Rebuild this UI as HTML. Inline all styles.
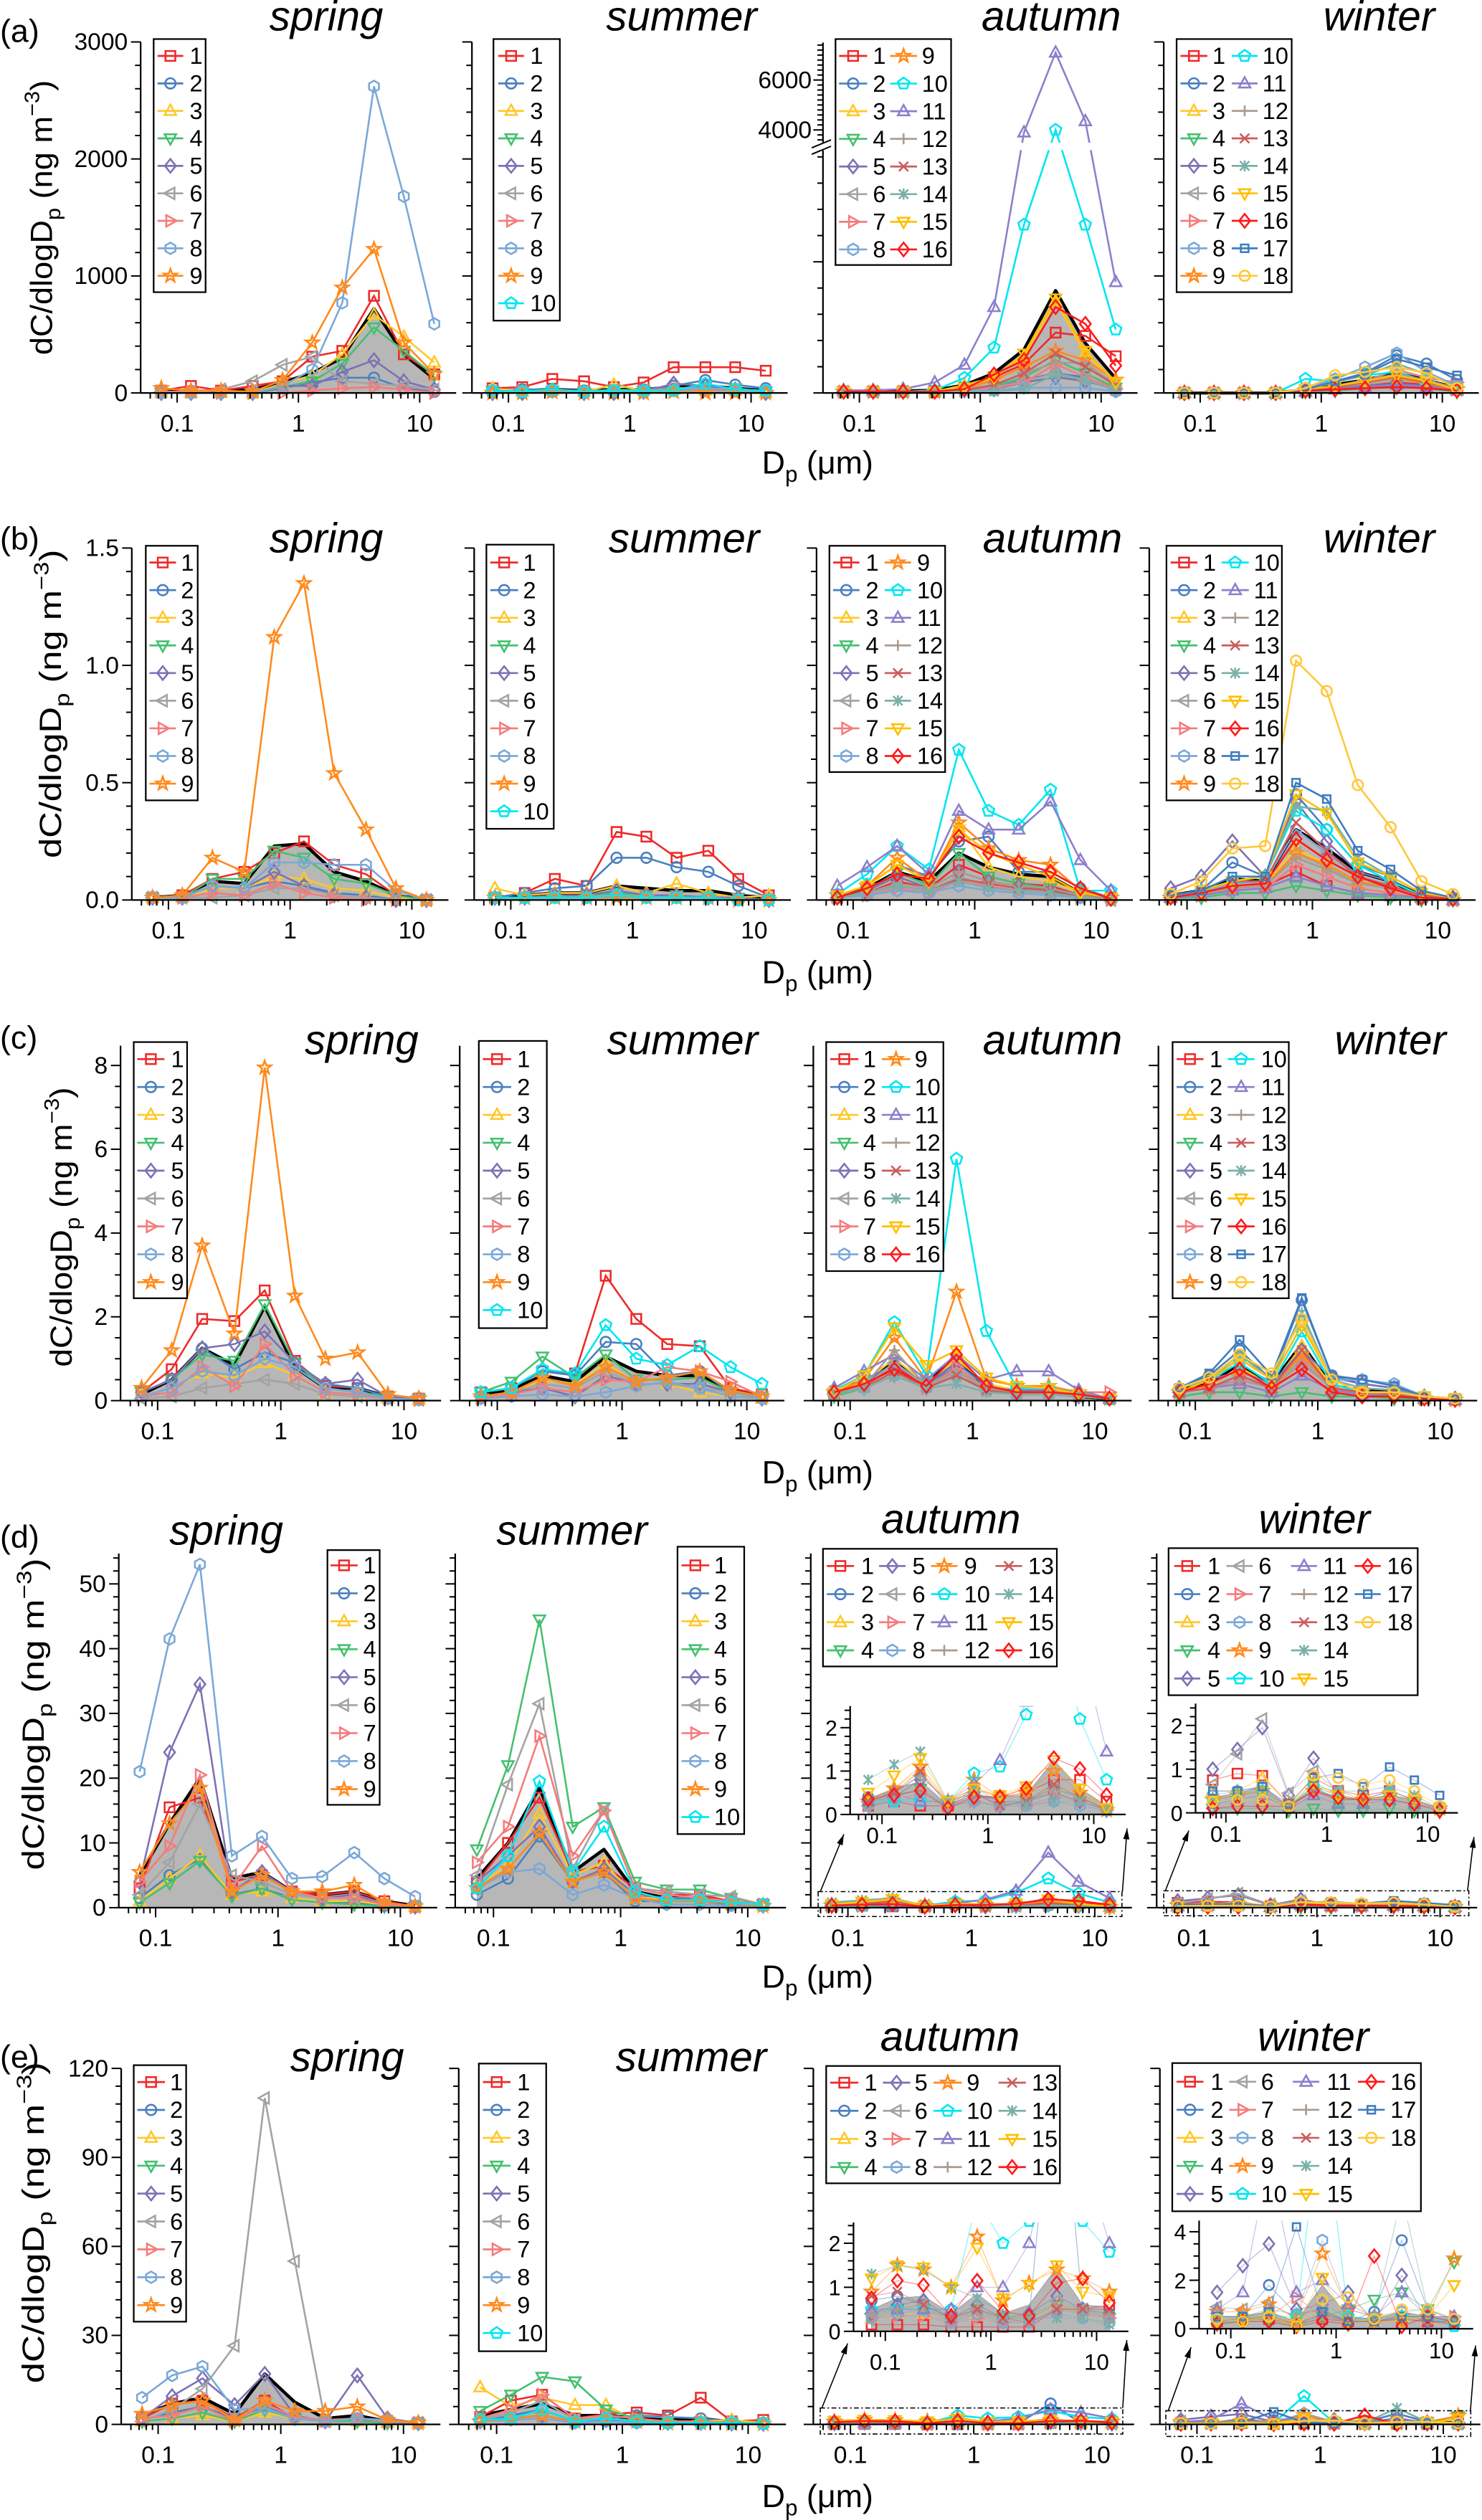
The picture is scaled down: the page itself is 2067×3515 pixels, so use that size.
<!DOCTYPE html>
<html><head><meta charset="utf-8"><style>
html,body{margin:0;padding:0;background:#fff;}
svg{display:block;}
text{font-family:"Liberation Sans",Arial,sans-serif;}
</style></head>
<body>
<svg id="fig" xmlns="http://www.w3.org/2000/svg" width="2067" height="3515" viewBox="0 0 922 1568" preserveAspectRatio="none">
<rect x="0" y="0" width="922" height="1568" fill="#fff"/>
</svg>
<script>
// ---------- data ----------
const dpBins = [0.074,0.13,0.23,0.42,0.74,1.3,2.3,4.2,7.4,13.2];
const aSpring = {
 s1:[20,60,20,60,100,310,360,830,330,160], s2:[0,0,0,0,40,90,130,130,40,10], s3:[0,0,0,0,80,150,330,670,480,260],
 s4:[0,0,0,0,50,100,250,560,360,150], s5:[0,0,0,0,60,60,180,280,100,30], s6:[10,10,30,100,240,310,100,80,60,30],
 s7:[10,10,0,0,0,20,40,50,30,0], s8:[0,0,0,0,60,200,770,2620,1680,590], s9:[40,20,20,10,110,430,900,1230,430,160],
 mean:[10,15,15,30,90,170,300,720,330,120]};
const aSummer = {
 s1:[40,50,120,100,50,90,220,220,220,190], s2:[20,30,30,20,20,30,60,110,70,40], s3:[40,10,20,10,70,20,30,20,20,0],
 s4:[20,10,20,10,30,20,40,50,40,10], s5:[0,0,20,0,0,10,80,60,30,0], s6:[10,10,20,10,20,20,40,40,30,10],
 s7:[10,10,10,10,10,10,20,20,20,10], s8:[0,10,10,0,10,10,20,30,20,10], s9:[0,0,10,0,0,0,10,0,0,0],
 s10:[20,10,30,10,20,20,20,80,30,20], mean:[20,20,30,20,30,30,50,60,40,20]};
const aAutumn = {
 s1:[10,10,10,10,40,120,220,460,435,280], s2:[10,10,10,10,20,40,100,150,120,30], s3:[10,10,10,10,60,120,280,700,300,80],
 s4:[10,10,10,10,20,50,120,250,150,40], s5:[10,10,10,10,20,30,80,120,90,30], s6:[10,10,10,10,20,40,90,150,100,30],
 s7:[10,10,10,10,20,40,80,220,120,30], s8:[10,10,10,10,20,20,40,40,40,10], s9:[10,10,10,10,30,100,200,320,250,100],
 s10:[10,10,10,20,115,345,1283,4000,1283,483], s11:[20,20,30,80,215,655,3900,7100,4350,845],
 s12:[10,10,10,10,30,60,150,230,230,60], s13:[10,10,10,10,20,60,150,300,200,60], s14:[10,10,10,10,10,10,30,140,100,20],
 s15:[10,10,10,10,40,120,300,720,320,80], s16:[10,10,10,10,30,141,251,655,527,208],
 mean:[10,10,15,20,60,150,330,780,380,110]};
const aWinter = {
 s1:[0,0,0,0,20,40,60,90,70,30], s2:[0,0,0,0,30,100,170,320,250,110], s3:[0,0,0,0,20,60,100,160,110,40],
 s4:[0,0,0,0,10,20,40,60,40,10], s5:[0,0,0,0,20,40,60,80,60,20], s6:[0,0,0,0,20,50,80,120,80,30],
 s7:[0,0,0,0,20,60,100,200,130,90], s8:[0,0,0,0,40,120,220,340,180,60], s9:[0,0,0,0,20,50,90,130,80,30],
 s10:[0,0,0,0,120,100,150,180,100,40], s11:[0,0,0,0,10,30,50,70,50,20], s12:[0,0,0,0,20,60,110,160,110,40],
 s13:[0,0,0,0,20,50,90,140,90,30], s14:[0,0,0,0,30,90,150,250,160,60], s15:[0,0,0,0,30,60,100,150,100,30],
 s16:[0,0,0,0,20,30,40,50,40,20], s17:[0,0,0,0,30,100,160,290,220,150], s18:[0,0,0,0,40,150,180,220,170,40],
 mean:[0,0,0,0,30,70,110,170,110,40]};
const bSpring = {
 s1:[0.01,0.02,0.09,0.12,0.2,0.25,0.15,0.11,0.02,0], s2:[0.01,0.01,0.06,0.05,0.08,0.06,0.03,0.02,0,0],
 s3:[0.01,0.01,0.05,0.05,0.1,0.09,0.05,0.04,0.01,0], s4:[0.01,0.01,0.09,0.09,0.21,0.18,0.09,0.07,0.02,0],
 s5:[0.01,0.01,0.06,0.05,0.12,0.06,0.02,0.01,0,0], s6:[0.01,0.01,0.01,0.02,0.05,0.05,0.02,0.01,0,0],
 s7:[0.01,0.01,0.03,0.02,0.07,0.03,0.01,0,0,0], s8:[0.01,0.01,0.06,0.05,0.16,0.16,0.15,0.15,0.04,0],
 s9:[0.01,0.02,0.18,0.12,1.12,1.35,0.54,0.3,0.05,0], mean:[0.01,0.02,0.08,0.07,0.23,0.24,0.12,0.08,0.02,0]};
const bSummer = {
 s1:[0.01,0.03,0.09,0.06,0.29,0.27,0.18,0.21,0.09,0.02], s2:[0.01,0.03,0.05,0.06,0.18,0.18,0.14,0.12,0.06,0.01],
 s3:[0.05,0.02,0.03,0.03,0.06,0.03,0.07,0.03,0.01,0.02], s4:[0.01,0.01,0.02,0.02,0.03,0.02,0.02,0.01,0.01,0],
 s5:[0.01,0.01,0.02,0.02,0.04,0.02,0.02,0.01,0.01,0], s6:[0.01,0.01,0.01,0.01,0.02,0.01,0.01,0.01,0,0],
 s7:[0.01,0.01,0.01,0.01,0.02,0.01,0.01,0.01,0,0], s8:[0.01,0.01,0.01,0.01,0.02,0.01,0.01,0.01,0,0],
 s9:[0.01,0.01,0.01,0.01,0.01,0.01,0.01,0.01,0,0], s10:[0.01,0.01,0.01,0.01,0.02,0.01,0.01,0.01,0,0],
 mean:[0.01,0.02,0.03,0.03,0.06,0.05,0.04,0.04,0.02,0.01]};
const bAutumn = {
 s1:[0.01,0.03,0.08,0.05,0.15,0.1,0.07,0.06,0.02,0.01], s2:[0.02,0.06,0.15,0.1,0.25,0.27,0.12,0.12,0.05,0.01],
 s3:[0.02,0.06,0.15,0.08,0.31,0.14,0.1,0.08,0.03,0.01], s4:[0.01,0.04,0.12,0.06,0.2,0.1,0.07,0.05,0.02,0.01],
 s5:[0.02,0.04,0.1,0.05,0.12,0.08,0.06,0.04,0.02,0.01], s6:[0.01,0.03,0.06,0.04,0.1,0.06,0.04,0.03,0.01,0],
 s7:[0.01,0.02,0.05,0.03,0.08,0.06,0.04,0.03,0.01,0], s8:[0.01,0.02,0.04,0.03,0.06,0.04,0.03,0.02,0.01,0],
 s9:[0.02,0.06,0.18,0.08,0.33,0.22,0.17,0.15,0.04,0.01], s10:[0.025,0.11,0.23,0.13,0.64,0.38,0.32,0.47,0.04,0.04],
 s11:[0.06,0.14,0.23,0.11,0.38,0.3,0.3,0.42,0.17,0.04], s12:[0.01,0.03,0.07,0.05,0.12,0.08,0.06,0.05,0.02,0],
 s13:[0.01,0.03,0.06,0.04,0.09,0.07,0.05,0.04,0.01,0], s14:[0.01,0.03,0.06,0.04,0.08,0.05,0.04,0.03,0.01,0],
 s15:[0.02,0.06,0.15,0.08,0.3,0.2,0.15,0.1,0.03,0.01], s16:[0.01,0.05,0.11,0.09,0.27,0.2,0.16,0.12,0.05,0.005],
 mean:[0.015,0.05,0.12,0.08,0.2,0.14,0.11,0.1,0.03,0.01]};
const bWinter = {
 s1:[0.01,0.02,0.05,0.06,0.12,0.06,0.03,0.02,0.01,0], s2:[0.02,0.04,0.16,0.1,0.45,0.3,0.15,0.1,0.03,0.01],
 s3:[0.01,0.03,0.06,0.07,0.22,0.15,0.08,0.05,0.01,0], s4:[0.01,0.01,0.03,0.03,0.06,0.04,0.02,0.01,0,0],
 s5:[0.05,0.1,0.25,0.1,0.42,0.25,0.12,0.08,0.02,0.01], s6:[0.01,0.02,0.05,0.06,0.2,0.14,0.07,0.05,0.01,0],
 s7:[0.01,0.02,0.04,0.05,0.15,0.1,0.05,0.03,0.01,0], s8:[0.02,0.03,0.07,0.08,0.3,0.2,0.1,0.06,0.02,0.01],
 s9:[0.01,0.02,0.05,0.06,0.2,0.15,0.08,0.05,0.01,0], s10:[0.02,0.04,0.08,0.1,0.38,0.3,0.15,0.08,0.02,0.01],
 s11:[0.01,0.02,0.04,0.05,0.1,0.06,0.03,0.02,0.01,0], s12:[0.01,0.03,0.05,0.06,0.18,0.13,0.07,0.05,0.01,0.005],
 s13:[0.02,0.04,0.08,0.08,0.33,0.21,0.1,0.06,0.02,0.01], s14:[0.02,0.04,0.08,0.1,0.4,0.38,0.18,0.1,0.03,0.01],
 s15:[0.02,0.04,0.08,0.1,0.45,0.37,0.16,0.1,0.03,0.01], s16:[0.01,0.03,0.06,0.07,0.26,0.17,0.1,0.05,0.01,0.005],
 s17:[0.02,0.04,0.1,0.1,0.5,0.43,0.21,0.13,0.04,0.01], s18:[0.025,0.08,0.22,0.23,1.02,0.89,0.49,0.31,0.08,0.025],
 mean:[0.02,0.04,0.09,0.08,0.3,0.22,0.12,0.08,0.02,0.01]};
const cSpring = {
 s1:[0.2,0.75,1.95,1.9,2.63,0.95,0.35,0.3,0.1,0.05], s2:[0.2,0.5,1.25,0.75,1.15,0.9,0.4,0.3,0.1,0.05],
 s3:[0.1,0.3,0.65,0.55,0.9,0.6,0.2,0.15,0.05,0.02], s4:[0.2,0.5,1.1,0.95,2.3,0.9,0.3,0.2,0.1,0.05],
 s5:[0.2,0.5,1.25,1.35,1.65,0.9,0.4,0.5,0.1,0.05], s6:[0.05,0.1,0.3,0.4,0.5,0.4,0.15,0.1,0.05,0.02],
 s7:[0.1,0.2,0.8,0.35,1.35,0.6,0.2,0.15,0.05,0.02], s8:[0.1,0.3,0.7,0.6,1.0,0.8,0.3,0.2,0.05,0.02],
 s9:[0.3,1.2,3.7,1.6,7.95,2.5,1.0,1.15,0.15,0.05], mean:[0.15,0.5,1.25,0.85,2.25,0.8,0.3,0.3,0.1,0.05]};
const cSummer = {
 s1:[0.2,0.3,0.7,0.65,2.98,1.95,1.35,1.3,0.3,0.15], s2:[0.2,0.3,0.7,0.6,1.4,1.35,0.6,0.7,0.2,0.05],
 s3:[0.1,0.2,0.5,0.4,0.9,0.4,0.4,0.2,0.1,0.05], s4:[0.2,0.45,1.05,0.55,1.1,0.5,0.5,0.55,0.2,0.1],
 s5:[0.1,0.2,0.3,0.1,0.6,0.4,0.4,0.4,0.2,0.05], s6:[0.1,0.2,0.4,0.3,0.7,0.4,0.4,0.3,0.2,0.05],
 s7:[0.05,0.15,0.3,0.2,0.5,0.45,0.8,0.7,0.45,0.1], s8:[0.05,0.1,0.15,0.1,0.2,0.35,0.45,0.3,0.1,0.05],
 s9:[0.1,0.2,0.55,0.35,0.8,0.45,0.55,0.7,0.25,0.1], s10:[0.2,0.3,0.75,0.65,1.8,1.0,0.85,1.3,0.8,0.4],
 mean:[0.15,0.25,0.6,0.45,1.05,0.7,0.6,0.6,0.25,0.1]};
const cAutumn = {
 s1:[0.15,0.35,0.8,0.35,0.7,0.3,0.2,0.2,0.1,0.05], s2:[0.2,0.4,0.9,0.4,0.9,0.35,0.25,0.2,0.1,0.05],
 s3:[0.2,0.45,1.0,0.4,1.0,0.4,0.25,0.25,0.1,0.05], s4:[0.1,0.3,0.6,0.3,0.6,0.25,0.15,0.15,0.1,0.05],
 s5:[0.25,0.5,0.85,0.4,0.8,0.3,0.25,0.25,0.1,0.05], s6:[0.15,0.35,0.9,0.35,0.6,0.3,0.2,0.2,0.1,0.05],
 s7:[0.2,0.35,0.6,0.3,0.8,0.3,0.2,0.2,0.2,0.2], s8:[0.15,0.3,0.6,0.3,0.6,0.25,0.15,0.15,0.1,0.05],
 s9:[0.2,0.5,1.5,0.5,2.6,0.5,0.35,0.35,0.2,0.05], s10:[0.25,0.6,1.87,0.6,5.77,1.66,0.3,0.3,0.17,0.03],
 s11:[0.3,0.7,1.1,0.5,1.1,0.5,0.7,0.7,0.25,0.05], s12:[0.15,0.35,1.2,0.35,0.7,0.3,0.2,0.2,0.1,0.05],
 s13:[0.15,0.3,0.7,0.3,0.6,0.25,0.15,0.15,0.1,0.05], s14:[0.15,0.3,0.6,0.3,0.4,0.2,0.15,0.15,0.1,0.05],
 s15:[0.2,0.6,1.75,0.85,1.2,0.55,0.35,0.3,0.15,0.05], s16:[0.2,0.4,0.75,0.35,1.1,0.35,0.2,0.2,0.15,0.05],
 mean:[0.2,0.4,0.95,0.4,1.05,0.3,0.2,0.2,0.1,0.05]};
const cWinter = {
 s1:[0.2,0.3,0.5,0.3,0.9,0.3,0.2,0.15,0.05,0.02], s2:[0.3,0.6,1.2,0.5,2.4,0.6,0.4,0.3,0.1,0.05],
 s3:[0.2,0.35,0.8,0.35,1.3,0.35,0.2,0.15,0.05,0.02], s4:[0.1,0.2,0.2,0.1,0.2,0.1,0.1,0.05,0.05,0.02],
 s5:[0.3,0.5,0.7,0.4,1.2,0.55,0.4,0.3,0.1,0.05], s6:[0.2,0.3,0.6,0.3,1.0,0.3,0.2,0.15,0.05,0.02],
 s7:[0.2,0.3,0.5,0.3,0.9,0.3,0.2,0.15,0.05,0.02], s8:[0.3,0.5,1.0,0.5,1.8,0.5,0.5,0.4,0.1,0.05],
 s9:[0.2,0.3,0.6,0.3,1.1,0.3,0.2,0.15,0.05,0.02], s10:[0.2,0.5,0.9,0.4,1.65,0.4,0.2,0.2,0.1,0.05],
 s11:[0.2,0.3,0.4,0.2,0.6,0.25,0.15,0.1,0.05,0.02], s12:[0.2,0.3,0.5,0.3,0.9,0.3,0.2,0.15,0.05,0.02],
 s13:[0.2,0.3,0.6,0.3,1.2,0.3,0.2,0.15,0.05,0.02], s14:[0.3,0.5,1.1,0.5,2.1,0.5,0.3,0.25,0.1,0.05],
 s15:[0.2,0.5,1.0,0.5,1.8,0.5,0.2,0.2,0.1,0.05], s16:[0.2,0.4,0.75,0.3,0.75,0.2,0.1,0.1,0.05,0.02],
 s17:[0.3,0.65,1.45,0.6,2.45,0.6,0.5,0.35,0.1,0.05], s18:[0.3,0.55,1.1,0.65,1.95,0.5,0.2,0.2,0.1,0.05],
 mean:[0.25,0.4,0.85,0.4,1.35,0.35,0.25,0.2,0.08,0.03]};
const dSpring = {
 s1:[3,15.5,17,4,5,2.5,2,2.5,1,0.2], s2:[1.5,5,7.5,2,3,1.5,1,0.8,0.3,0.1], s3:[1,4.5,8,2,2.5,1.5,1,1,0.5,0.2],
 s4:[0.8,3.8,7.2,1.8,3,1.2,0.8,0.5,0.2,0.1], s5:[4,24,34.5,2.5,5.5,2.5,1.5,2,0.5,0.2], s6:[2,7,16,5,4,2,1.5,1.5,0.5,0.2],
 s7:[4,9.5,20.5,3,9.5,2.5,1.5,1.5,0.5,0.1], s8:[21,41.5,53,8,11,4.5,4.8,8.5,4.5,1.7], s9:[5.5,13,18.5,2.5,5,2.5,2.5,3.5,0.8,0.2],
 mean:[5,13,20,4.5,5.5,2.5,2,2.5,1,0.3]};
const dSummer = {
 s1:[4,10,17,5.5,6.5,3,2,2,1,0.5], s2:[2,4.5,11,4,5.5,1,1,1,0.5,0.3], s3:[3.5,6.5,14.5,5,7,1.5,1.5,1.5,0.8,0.3],
 s4:[9,22,44.5,12.5,15.5,4,2.8,2.8,1.5,0.5], s5:[4,8,12.5,4,6,2,1.5,1.5,1,0.3], s6:[5,19,31.5,6,15,3,2.5,2,1.7,0.5],
 s7:[7,12.5,26.5,8,15,3,2,1.5,1,0.5], s8:[3,5.5,6,2,3.5,1.5,0.5,0.5,0.3,0.2], s9:[3,6,11.5,4,5.5,1.5,1,1,0.7,0.3],
 s10:[3,8,19.5,5.5,12.5,2.5,1.2,1.2,0.8,0.5], mean:[4.5,10,18.5,5.5,9,2.5,1.5,1.5,0.8,0.4]};
const dAutumn = {
 s1:[0.2,0.3,0.2,0.2,0.6,0.4,0.5,0.8,0.8,0.3], s2:[0.4,0.5,0.9,0.3,0.5,0.3,0.3,0.6,0.4,0.1],
 s3:[0.3,0.6,1.0,0.3,0.6,0.4,0.6,0.6,0.5,0.1], s4:[0.2,0.4,0.6,0.2,0.3,0.2,0.3,0.5,0.3,0.1],
 s5:[0.3,0.4,0.8,0.2,0.5,0.2,0.3,0.5,0.3,0.1], s6:[0.3,0.5,0.9,0.3,0.5,0.3,0.3,0.6,0.4,0.1],
 s7:[0.2,0.3,0.5,0.2,0.3,0.2,0.2,0.4,0.3,0.1], s8:[0.2,0.3,0.4,0.2,0.3,0.2,0.2,0.3,0.2,0.1],
 s9:[0.3,0.6,1.1,0.3,0.8,0.4,0.5,1.0,0.5,0.1], s10:[0.3,0.3,0.3,0.3,0.95,1.1,2.3,4.5,2.2,0.8],
 s11:[0.3,0.5,0.3,0.3,0.7,1.25,2.6,8.5,4.0,1.45], s12:[0.3,0.5,0.9,0.3,0.5,0.3,0.3,0.6,0.4,0.1],
 s13:[0.3,0.5,1.0,0.2,0.5,0.2,0.3,0.7,0.4,0.1], s14:[0.8,1.15,1.45,0.3,0.6,0.3,0.2,0.3,0.3,0.1],
 s15:[0.5,0.9,1.3,0.3,0.6,0.45,0.65,1.25,0.6,0.15], s16:[0.35,0.45,0.55,0.15,0.4,0.4,0.6,1.3,1.05,0.45],
 mean:[0.35,0.6,0.75,0.2,0.45,0.4,0.45,1.25,0.6,0.2]};
const dWinter = {
 s1:[0.75,0.9,0.85,0.2,0.8,0.5,0.4,0.5,0.3,0.1], s2:[0.3,0.4,0.5,0.15,0.6,0.4,0.3,0.4,0.3,0.1],
 s3:[0.5,0.5,0.8,0.2,0.6,0.4,0.3,0.4,0.3,0.1], s4:[0.1,0.1,0.1,0.05,0.1,0.05,0.05,0.1,0.05,0.02],
 s5:[1.0,1.45,1.95,0.4,1.25,0.4,0.3,0.5,0.3,0.1], s6:[0.65,1.35,2.15,0.45,0.95,0.5,0.3,0.5,0.3,0.1],
 s7:[0.3,0.4,0.5,0.15,0.5,0.3,0.3,0.4,0.3,0.1], s8:[0.4,0.5,0.6,0.15,0.7,0.4,0.3,0.5,0.3,0.1],
 s9:[0.3,0.4,0.5,0.15,0.5,0.3,0.3,0.4,0.3,0.1], s10:[0.3,0.4,0.5,0.15,0.6,0.3,0.3,0.4,0.3,0.1],
 s11:[0.2,0.3,0.4,0.1,0.4,0.2,0.2,0.3,0.2,0.1], s12:[0.3,0.4,0.5,0.15,0.5,0.3,0.3,0.4,0.3,0.1],
 s13:[0.3,0.4,0.5,0.15,0.5,0.3,0.3,0.4,0.3,0.1], s14:[0.3,0.4,0.5,0.15,0.6,0.5,0.5,0.6,0.4,0.1],
 s15:[0.3,0.4,0.5,0.15,0.7,0.4,0.3,0.4,0.3,0.1], s16:[0.1,0.15,0.15,0.15,0.5,0.35,0.3,0.3,0.2,0.05],
 s17:[0.5,0.5,0.6,0.2,0.8,0.9,0.6,1.05,0.75,0.4], s18:[0.25,0.3,0.3,0.15,0.85,0.8,0.65,0.75,0.5,0.15],
 mean:[0.35,0.45,0.6,0.15,0.55,0.35,0.3,0.4,0.3,0.1]};
const eSpring = {
 s1:[2,7,8,2,8,2,1,2,1,0.5], s2:[1.5,4,6,2,6,2,1,1.5,1,0.3], s3:[1,2,3,1,4,2,1,1,0.5,0.3],
 s4:[1,2,4,1,5,2,1,1,0.5,0.3], s5:[2,9.5,15.5,6.5,17,3,1,16.5,2,0.5], s6:[1,5,12,26.5,110,55,1,2,1,0.5],
 s7:[2,3,6,1,7,2.5,1.5,2,1,0.5], s8:[9,16.5,19.5,5,5.5,2,1,2,1.5,0.5], s9:[3.5,6.5,8,1.5,8,4.5,4.5,6,1.5,0.5],
 mean:[3,7,9,3.5,17,7.5,2,3,1,0.3]};
const eSummer = {
 s1:[2.5,8,10,2,3.5,4,3,9,1,1.5], s2:[1,3,5,1,2,3,2.5,2,1,0.5], s3:[12.5,6,9,6.5,6.5,1,1,1,1.5,0.5],
 s4:[4.5,10,16,14.5,5,2,1,1,0.5,0.3], s5:[1,2,3,1,1.5,1,0.5,0.5,0.3,0.2], s6:[1.5,4,8,1.5,2,1,0.5,0.5,0.3,0.2],
 s7:[2,5,10,2,3,2,1,1,0.5,0.3], s8:[1,1.5,2,0.5,1,0.5,0.3,0.3,0.2,0.1], s9:[1,2,3,1,2,1,0.5,0.5,0.3,0.2],
 s10:[1.5,2,5,1,2,1,0.5,0.5,0.5,0.3], mean:[3,5,7,3,3,2,1.5,2,0.8,0.5]};
const eAutumn = {
 s1:[0.15,0.15,0.15,0.1,0.1,0.1,0.1,0.5,0.5,0.6], s2:[0.7,0.8,0.6,0.3,0.4,0.3,0.3,7,0.5,0.4],
 s3:[0.3,0.4,0.4,0.3,0.4,0.3,0.3,0.6,0.4,0.3], s4:[0.3,0.5,0.5,0.3,0.5,0.3,0.3,0.6,0.4,0.3],
 s5:[0.4,0.6,0.7,0.3,0.6,0.3,0.4,0.8,0.5,0.3], s6:[0.4,0.5,0.6,0.2,0.5,0.2,0.3,0.7,0.5,0.3],
 s7:[0.3,0.35,0.35,0.2,0.3,0.2,0.2,0.5,0.4,0.3], s8:[0.3,0.4,0.5,0.2,0.4,0.2,0.2,0.4,0.3,0.2],
 s9:[0.9,1.5,1.4,1.0,2.15,0.7,1.1,1.4,1.2,0.9], s10:[0.5,0.5,0.5,0.5,3,2,2.5,4.5,2.5,1.8],
 s11:[0.5,0.5,0.5,0.5,1,1,2,5,4,2], s12:[0.4,0.5,0.6,0.3,0.5,0.3,0.4,0.6,0.5,0.4],
 s13:[0.8,0.9,0.6,0.3,0.5,0.3,0.2,0.5,0.5,0.5], s14:[1.3,1.5,1.4,1.0,0.75,0.4,0.3,0.3,0.3,0.15],
 s15:[1.2,1.5,1.45,1.0,1.9,0.75,1.05,1.5,0.9,0.8], s16:[0.75,1.15,1.05,0.35,1.15,0.45,0.35,1.1,1.2,0.65],
 mean:[0.5,0.75,0.8,0.4,0.85,0.4,0.6,1.45,0.6,0.55]};
const eWinter = {
 s1:[0.3,0.4,0.4,0.2,0.4,0.3,0.3,0.4,0.3,0.3], s2:[0.5,0.5,1.8,0.6,0.8,0.3,0.7,3.65,0.8,0.4],
 s3:[0.4,0.5,0.6,0.3,0.8,0.4,0.3,0.5,0.4,0.3], s4:[0.2,0.3,0.3,0.1,0.5,0.8,1.2,1.5,0.8,2.75],
 s5:[1.5,2.6,3.5,0.8,1.0,1.5,0.3,2.2,0.3,0.3], s6:[0.9,0.8,1.1,0.4,1.0,0.5,0.3,0.5,0.4,0.3],
 s7:[0.3,0.4,0.5,1.3,0.5,0.3,0.3,0.5,0.5,0.5], s8:[0.5,0.5,0.8,0.6,3.65,0.8,0.5,0.7,0.8,0.4],
 s9:[0.7,0.7,1.0,0.5,3.1,0.8,0.5,0.5,0.5,2.9], s10:[0.3,0.3,0.5,0.5,9.5,0.5,0.4,0.5,0.5,0.1],
 s11:[0.8,1.5,7,1.5,2,1,0.5,1.5,0.5,0.5], s12:[0.3,0.4,0.5,0.2,0.6,0.3,0.3,0.4,0.3,0.2],
 s13:[0.3,0.4,0.5,0.2,0.6,0.3,0.3,0.4,0.3,0.2], s14:[0.3,0.5,0.5,0.3,0.5,0.3,0.5,5.5,0.8,0.3],
 s15:[0.3,0.4,0.5,0.2,2.1,0.3,0.3,0.3,0.5,1.8], s16:[0.2,0.3,0.3,0.1,0.3,0.2,3.0,0.1,0.5,0.3],
 s17:[0.5,0.5,0.7,4.2,0.7,0.3,0.3,0.5,0.5,0.3], s18:[0.4,0.3,0.5,0.1,1.2,1.3,0.4,0.8,0.8,0.4],
 mean:[0.5,0.5,0.7,0.3,1.8,0.5,0.4,0.7,0.5,0.5]};
const xTickLabels = ['0.1','1','10'];
const xTickValues = [0.1,1,10];

// ---------- styling ----------
const colors = ['#ee2a2a','#4a7fc0','#ffc82a','#45c070','#7c72b4','#a3a3a3','#f47c7c','#7aa8d8','#ff8a1c','#00e6f0','#8b80cc','#ab9a8e','#cc5c5c','#79b0a8','#ffbf00','#ff1a1a','#3f7cc0','#ffc83a'];
const shapes = ['sq','ci','tu','td','di','tl','tr','hx','st','pe','tu','pl','x','as','td','di','sqs','ci'];
const NS='http://www.w3.org/2000/svg';
const svg=document.getElementById('fig');
function mk(tag,attrs,parent){const e=document.createElementNS(NS,tag);for(const k in attrs)e.setAttribute(k,attrs[k]);(parent||svg).appendChild(e);return e;}
const XMIN=0.05, XMAX=20;
function xs(p,d){return p.L+(Math.log10(d)-Math.log10(XMIN))/(Math.log10(XMAX)-Math.log10(XMIN))*(p.R-p.L);}
function ysLin(p,v){return p.y0-(v/p.ymax)*(p.y0-p.top);}
function ysBreak(p,v){
  if(v<=1850) return 244.5-v*0.0816;
  if(v>=3500) return 88.6-(v-3500)*0.015525;
  return 93.6-(v-1850)/(1650)*5;
}
function shapePts(k,cx,cy,r){
  const pts=[];
  if(k==='hx'){for(let i=0;i<6;i++){const a=Math.PI/2+i*Math.PI/3;pts.push([cx+r*1.05*Math.cos(a),cy-r*1.05*Math.sin(a)]);}}
  if(k==='pe'){for(let i=0;i<5;i++){const a=Math.PI/2+i*2*Math.PI/5;pts.push([cx+r*1.1*Math.cos(a),cy-r*1.1*Math.sin(a)]);}}
  if(k==='st'){for(let i=0;i<10;i++){const a=Math.PI/2+i*Math.PI/5;const rr=i%2?r*0.5:r*1.25;pts.push([cx+rr*Math.cos(a),cy-rr*Math.sin(a)]);}}
  if(k==='tu')pts.push([cx,cy-r*1.15],[cx+r*1.05,cy+r*0.75],[cx-r*1.05,cy+r*0.75]);
  if(k==='td')pts.push([cx,cy+r*1.15],[cx+r*1.05,cy-r*0.75],[cx-r*1.05,cy-r*0.75]);
  if(k==='tl')pts.push([cx-r*1.15,cy],[cx+r*0.75,cy-r*1.05],[cx+r*0.75,cy+r*1.05]);
  if(k==='tr')pts.push([cx+r*1.15,cy],[cx-r*0.75,cy-r*1.05],[cx-r*0.75,cy+r*1.05]);
  if(k==='di')pts.push([cx,cy-r*1.25],[cx+r,cy],[cx,cy+r*1.25],[cx-r,cy]);
  return pts.map(q=>q[0].toFixed(2)+','+q[1].toFixed(2)).join(' ');
}
function marker(g,idx,cx,cy,r,name){
  const k=shapes[idx], c=colors[idx]; let e;
  const st={fill:'none',stroke:c,'stroke-width':1.15};
  if(k==='sq'||k==='sqs'){const h=k==='sq'?r*0.9:r*0.7;e=mk('rect',Object.assign({x:cx-h,y:cy-h,width:2*h,height:2*h},st),g);}
  else if(k==='ci'){e=mk('circle',Object.assign({cx:cx,cy:cy,r:r*0.95},st),g);}
  else if(k==='pl'){e=mk('path',Object.assign({d:`M${cx-r} ${cy}H${cx+r}M${cx} ${cy-r}V${cy+r}`},st),g);}
  else if(k==='x'){const q=r*0.85;e=mk('path',Object.assign({d:`M${cx-q} ${cy-q}L${cx+q} ${cy+q}M${cx-q} ${cy+q}L${cx+q} ${cy-q}`},st),g);}
  else if(k==='as'){const q=r*0.85;e=mk('path',Object.assign({d:`M${cx-q} ${cy-q}L${cx+q} ${cy+q}M${cx-q} ${cy+q}L${cx+q} ${cy-q}M${cx} ${cy-r}V${cy+r}`},st),g);}
  else {e=mk('polygon',Object.assign({points:shapePts(k,cx,cy,r)},st),g);}
  
  
  return e;
}
function txt(s,x,y,size,anchor,parent,extra){
  const t=mk('text',Object.assign({x:x,y:y,'font-size':size,'text-anchor':anchor||'start',fill:'#000'},extra||{}),parent);
  t.textContent=s; return t;
}

// ---------- drawing ----------
function drawSeries(p,data,n,yfn,g,faint){
  const meanPts=data.mean.map((v,i)=>[xs(p,dpBins[i]),yfn(p,v)]);
  const poly=[[meanPts[0][0],yfn(p,0)]].concat(meanPts,[[meanPts[meanPts.length-1][0],yfn(p,0)]]);
  const area=mk('polygon',{points:poly.map(q=>q[0].toFixed(2)+','+q[1].toFixed(2)).join(' '),fill:'#b7b7b7',stroke:faint?'#999':'none','stroke-width':0.4},g);
  
  
  if(!faint){
    const ml=mk('polyline',{points:meanPts.map(q=>q.join(',')).join(' '),fill:'none',stroke:'#000','stroke-width':2,'stroke-linejoin':'round'},g);
    
    
  }
  for(let s=1;s<=n;s++){
    const vals=data['s'+s];
    const sg=mk('g',{},g);
    
    
    const pts=vals.map((v,i)=>[xs(p,dpBins[i]),yfn(p,v)]);
    const ln=mk('polyline',{points:pts.map(q=>q[0].toFixed(2)+','+q[1].toFixed(2)).join(' '),fill:'none',stroke:colors[s-1],'stroke-width':faint?0.6:1.15,'stroke-opacity':faint?0.45:1},sg);
    
    
    pts.forEach(q=>marker(sg,s-1,q[0],q[1],faint?3.3:3.4,'series-marker'));
  }
}
function xAxis(p,g,labelDy,fs){
  const ax=mk('line',{x1:p.L,y1:p.y0,x2:p.R,y2:p.y0,stroke:'#000','stroke-width':1},g);
  
  
  for(let e=-2;e<=1;e++){for(let m=1;m<=9;m++){const d=m*Math.pow(10,e);if(d<=XMIN*1.01||d>=XMAX*0.99)continue;
    const x=xs(p,d);const tk=mk('line',{x1:x,y1:p.y0,x2:x,y2:p.y0+(m===1?6:3.5),stroke:'#000','stroke-width':0.9},g);
    
    }}
  xTickValues.forEach((v,i)=>{const t=txt(xTickLabels[i],xs(p,v),p.y0+labelDy,fs,'middle',g);
    
    });
}
function yAxisLin(p,g,labels,fmt,fs){
  const ax=mk('line',{x1:p.L,y1:p.top,x2:p.L,y2:p.y0,stroke:'#000','stroke-width':1},g);
  
  
  const nMin=Math.round(p.ymax/p.minor+1e-6);
  for(let i=0;i<=nMin;i++){const v=i*p.minor; if(v>p.ymax+1e-9)break;
    const isMaj=Math.abs(v/p.major-Math.round(v/p.major))<1e-6;
    const y=ysLin(p,v);const tk=mk('line',{x1:p.L-(isMaj?6:3.5),y1:y,x2:p.L,y2:y,stroke:'#000','stroke-width':0.9},g);
    
    
    if(isMaj&&labels){const t=txt(fmt(v),p.L-8,y+5,fs,'end',g);
      
      }}
}
function legend(L,n,g){
  const box=mk('rect',{x:L.x1,y:L.y1,width:L.x2-L.x1,height:L.y2-L.y1,fill:'#fff',stroke:'#000','stroke-width':1},g);
  
  
  for(let s=1;s<=n;s++){
    const c=Math.floor((s-1)/L.rows), r=(s-1)%L.rows, col=L.cols[c];
    const y=L.ry+r*L.dy;
    const eg=mk('g',{},g);
    
    
    const ln=mk('line',{x1:col[0],y1:y,x2:col[1],y2:y,stroke:colors[s-1],'stroke-width':1.2},eg);
    
    
    marker(eg,s-1,(col[0]+col[1])/2,y,3.4,'legend-marker');
    const t=txt(String(s),col[2],y+5,14.5,'start',eg);
    
    
  }
}
function clip(id,x,y,w,h){const cp=mk('clipPath',{id:id});mk('rect',{x:x,y:y,width:w,height:h},cp);return 'url(#'+id+')';}

const rows=[
 {key:'a',lab:'(a)',labY:26,yt:{x:25.4,y:135.4,len:171},dpY:294.7,y0:244.5,top:26.1,ymax:3000,major:1000,minor:200,fmt:v=>String(v),
  panels:[
   {season:'spring',L:87.5,R:283.8,data:aSpring,n:9,title:[203,19],lg:{x1:95.6,y1:24.3,x2:127.9,y2:181.8,ry:34.8,dy:17.1,rows:9,cols:[[98,114,118]]}},
   {season:'summer',L:293.6,R:490,data:aSummer,n:10,title:[424,19],lg:{x1:307,y1:24.3,x2:348.3,y2:199.5,ry:34.8,dy:17.1,rows:10,cols:[[310,326,329.8]]}},
   {season:'autumn',L:512,R:707.7,data:aAutumn,n:16,title:[654,19],broken:true,lg:{x1:519.8,y1:24.3,x2:591.7,y2:164.9,ry:34.8,dy:17.2,rows:8,cols:[[522,539.5,543],[553.8,570.5,573.5]]}},
   {season:'winter',L:724,R:920,data:aWinter,n:18,title:[858,19],lg:{x1:732,y1:24.3,x2:803.6,y2:181.8,ry:34.8,dy:17.1,rows:9,cols:[[734.4,751.1,754.3],[766.3,782.4,785.4]]}}]},
 {key:'b',lab:'(b)',labY:342,yt:{x:31,y:438,len:192},dpY:611.8,y0:560,top:341,ymax:1.5,major:0.5,minor:0.1,fmt:v=>v.toFixed(1),
  panels:[
   {season:'spring',L:82,R:279,data:bSpring,n:9,title:[203,343.7],lg:{x1:90.7,y1:339.6,x2:123,y2:498,ry:350,dy:17.2,rows:9,cols:[[93,109.5,112.6]]}},
   {season:'summer',L:295,R:492,data:bSummer,n:10,title:[425.6,343.7],lg:{x1:302.6,y1:338.9,x2:344.5,y2:515.7,ry:350,dy:17.2,rows:10,cols:[[305,322.3,325.4]]}},
   {season:'autumn',L:508,R:704.8,data:bAutumn,n:16,title:[654.8,343.7],lg:{x1:516,y1:339.6,x2:588,y2:480.4,ry:350,dy:17.2,rows:8,cols:[[518.3,534.7,538.6],[550.4,566.8,570.5]]}},
   {season:'winter',L:715,R:918,data:bWinter,n:18,title:[858,343.7],lg:{x1:725.7,y1:339.6,x2:797.5,y2:498,ry:350,dy:17.2,rows:9,cols:[[728.3,745,748.5],[760,776.9,780]]}}]},
 {key:'c',lab:'(c)',labY:652.5,yt:{x:37.6,y:763.5,len:174},dpY:923,y0:871.5,top:650.7,ymax:8.47,major:2,minor:0.5,fmt:v=>String(v),
  panels:[
   {season:'spring',L:75,R:274.4,data:cSpring,n:9,title:[225,656],lg:{x1:83.2,y1:648.4,x2:116.4,y2:807.8,ry:659,dy:17.35,rows:9,cols:[[85.4,102.3,106.4]]}},
   {season:'summer',L:286,R:488,data:cSummer,n:10,title:[424.6,656],lg:{x1:297.9,y1:647.7,x2:340.2,y2:826.4,ry:659,dy:17.35,rows:10,cols:[[300.4,318,321.7]]}},
   {season:'autumn',L:506,R:704,data:cAutumn,n:16,title:[654.8,656],lg:{x1:514,y1:648.4,x2:586.9,y2:790.9,ry:659,dy:17.35,rows:8,cols:[[516.5,534,537],[548.6,566.3,569]]}},
   {season:'winter',L:720.7,R:919,data:cWinter,n:18,title:[865,656],lg:{x1:729.5,y1:648.4,x2:801.8,y2:807.8,ry:659,dy:17.35,rows:9,cols:[[732,748.7,752.5],[763.8,780.5,784.5]]}}]},
 {key:'d',lab:'(d)',labY:963,yt:{x:20.3,y:1066.6,len:194},dpY:1236.8,y0:1187,top:966.6,ymax:54.7,major:10,minor:2,fmt:v=>String(v),
  panels:[
   {season:'spring',L:73.9,R:272,data:dSpring,n:9,title:[140.8,961],lg:{x1:203.7,y1:964.5,x2:236.2,y2:1123,ry:974,dy:17.4,rows:9,cols:[[205.6,222.5,226]]}},
   {season:'summer',L:283.2,R:489,data:dSummer,n:10,title:[355.8,961],lg:{x1:421.5,y1:962.4,x2:463,y2:1141.2,ry:974,dy:17.4,rows:10,cols:[[424,441.2,444.3]]}},
   {season:'autumn',L:504.4,R:704.2,data:dAutumn,n:16,title:[591.6,954],lg:{x1:512,y1:963.7,x2:657.5,y2:1036.9,ry:974.4,dy:17.5,rows:4,cols:[[514.4,531.3,535.7],[546.9,563.4,567.6],[579.2,595.7,599.8],[619.3,635.9,639.6]]},
    inset:{L:528.9,R:700.3,y0:1129,top:1061.5,ymax:2.5,major:1,minor:0.2,fmt:v=>String(v),ldy:18,box:[509,1177,698,1192.5],arrows:[[510.3,1177.1,525,1141.3],[698.3,1177.1,701.2,1137.7]]}},
   {season:'winter',L:719.6,R:919,data:dWinter,n:18,title:[817.7,954],lg:{x1:727,y1:963.3,x2:882,y2:1054.8,ry:974.4,dy:17.5,rows:5,cols:[[730.5,746.7,751.2],[763,779.3,783],[803.2,819.4,823],[842.8,859,862.9]]},
    inset:{L:743.8,R:907,y0:1128,top:1060,ymax:2.5,major:1,minor:0.2,fmt:v=>String(v),ldy:18,box:[724,1176.5,913.8,1192],arrows:[[725,1176.5,739.6,1139],[913,1176.5,917,1143]]}}]},
 {key:'e',lab:'(e)',labY:1286.5,yt:{x:20.3,y:1383,len:200},dpY:1560,y0:1508.5,top:1287,ymax:120,major:30,minor:6,fmt:v=>String(v),
  panels:[
   {season:'spring',L:75.4,R:274,data:eSpring,n:9,title:[216,1288.7],lg:{x1:83.2,y1:1285,x2:115.8,y2:1444.6,ry:1295.5,dy:17.35,rows:9,cols:[[85.4,102.6,105.8]]}},
   {season:'summer',L:285.4,R:489,data:eSummer,n:10,title:[430,1288.7],lg:{x1:297.9,y1:1284,x2:339.8,y2:1463,ry:1295.5,dy:17.35,rows:10,cols:[[300.4,317.6,321.7]]}},
   {season:'autumn',L:506,R:705.6,data:eAutumn,n:16,title:[591,1276],lg:{x1:514,y1:1285.5,x2:659.4,y2:1358.5,ry:1295.9,dy:17.5,rows:4,cols:[[516.5,534,537.7],[549.3,566.3,569],[580.8,598.4,601.4],[621.2,638.2,641.9]]},
    inset:{L:531,R:702,y0:1450.6,top:1382.9,ymax:2.47,major:1,minor:0.2,fmt:v=>String(v),ldy:24,box:[510.3,1498.3,698.5,1514.5],arrows:[[511.3,1498.3,527.4,1458.1],[698.5,1498.3,701,1456]]}},
   {season:'winter',L:721.6,R:921,data:eWinter,n:18,title:[817,1276],lg:{x1:729.3,y1:1283.7,x2:884,y2:1375.9,ry:1295.3,dy:17.45,rows:5,cols:[[732,748.7,753.2],[764.7,781.4,784.5],[804.3,820.8,825.5],[844.8,861.5,865]]},
    inset:{L:746,R:916.5,y0:1449,top:1381.7,ymax:4.46,major:2,minor:0.5,fmt:v=>String(v),ldy:18.5,box:[725.3,1500,915,1516],arrows:[[726.8,1500,741,1460.5],[914.8,1500,918,1459.4]]}}]}
];

let clipId=0;
rows.forEach(row=>{
  const rg=mk('g',{});
  
  
  const pl=txt(row.lab,0,row.labY,20,'start',rg);
  
  
  const yt=mk('text',{x:row.yt.x,y:row.yt.y,'font-size':19,'text-anchor':'middle',transform:`rotate(-90 ${row.yt.x} ${row.yt.y})`,textLength:row.yt.len,lengthAdjust:'spacingAndGlyphs',dy:7},rg);
  
  
  yt.innerHTML='dC/dlogD<tspan font-size="13" dy="5">p</tspan><tspan dy="-5"> (ng m</tspan><tspan font-size="13" dy="-8">−3</tspan><tspan dy="8">)</tspan>';
  const xt=mk('text',{x:474,y:row.dpY,'font-size':20},rg);
  
  
  xt.innerHTML='D<tspan font-size="14" dy="5">p</tspan><tspan dy="-5"> (μm)</tspan>';
  row.panels.forEach((pp,pi)=>{
    const p={L:pp.L,R:pp.R,y0:row.y0,top:row.top,ymax:row.ymax,major:row.major,minor:row.minor};
    const g=mk('g',{},rg);
    
    
    const tt=txt(pp.season,pp.title[0],pp.title[1],26,'middle',g,{'font-style':'italic'});
    
    
    const yfn=pp.broken?ysBreak:ysLin;
    const pg=mk('g',{'clip-path':clip('c'+(clipId++),p.L+0.5,p.top-8,p.R-p.L+4,p.y0-p.top+16)},g);
    drawSeries(p,pp.data,pp.n,yfn,pg,false);
    if(pp.broken){
      const m=mk('rect',{x:p.L+1,y:88.8,width:p.R-p.L,height:4.6,fill:'#fff'},g);
      
      
      const a1=mk('line',{x1:p.L,y1:93.6,x2:p.L,y2:p.y0,stroke:'#000','stroke-width':1},g);
      
      
      const a2=mk('line',{x1:p.L,y1:26.5,x2:p.L,y2:88.6,stroke:'#000','stroke-width':1},g);
      
      
      const br=mk('path',{d:`M${p.L-7} ${92}L${p.L+5} ${87}M${p.L-7} ${96}L${p.L+5} ${91}`,stroke:'#000','stroke-width':0.9,fill:'none'},g);
      
      
      for(let v=0;v<=1800;v+=200){const y=ysBreak(p,v),maj=v%1000===0;const tk=mk('line',{x1:p.L-(maj?6:3.5),y1:y,x2:p.L,y2:y,stroke:'#000','stroke-width':0.9},g);
        
        }
      for(let v=3600;v<=7400;v+=200){const y=ysBreak(p,v),maj=v%2000===0;const tk=mk('line',{x1:p.L-(maj?6:3.5),y1:y,x2:p.L,y2:y,stroke:'#000','stroke-width':0.9},g);
        
        
        if(maj){const t=txt(String(v),p.L-7,y+5,15,'end',g);
          
          }}
    } else {
      yAxisLin(p,g,pi===0,row.fmt,15);
    }
    xAxis(p,g,24,15);
    if(pp.inset){
      const q=pp.inset; const ip={L:q.L,R:q.R,y0:q.y0,top:q.top,ymax:q.ymax,major:q.major,minor:q.minor};
      const ig=mk('g',{},g);
      
      
      const ic=mk('g',{'clip-path':clip('c'+(clipId++),ip.L+0.5,ip.top,ip.R-ip.L,ip.y0-ip.top+6)},ig);
      drawSeries(ip,pp.data,pp.n,ysLin,ic,true);
      yAxisLin(ip,ig,true,q.fmt,13.5);
      xAxis(ip,ig,q.ldy,14);
      const bx=mk('rect',{x:q.box[0],y:q.box[1],width:q.box[2]-q.box[0],height:q.box[3]-q.box[1],fill:'none',stroke:'#000','stroke-width':0.7,'stroke-dasharray':'3 1.5 1 1.5'},ig);
      
      
      q.arrows.forEach(a=>{
        const ar=mk('line',{x1:a[0],y1:a[1],x2:a[2],y2:a[3],stroke:'#000','stroke-width':0.7},ig);
        
        
        const ang=Math.atan2(a[3]-a[1],a[2]-a[0]),h=7,w=0.28;
        const hp=mk('polygon',{points:`${a[2]},${a[3]} ${a[2]-h*Math.cos(ang-w)},${a[3]-h*Math.sin(ang-w)} ${a[2]-h*Math.cos(ang+w)},${a[3]-h*Math.sin(ang+w)}`,fill:'#000'},ig);
        
        
      });
    }
    legend(pp.lg,pp.n,g);
  });
});
</script>
</body></html>
